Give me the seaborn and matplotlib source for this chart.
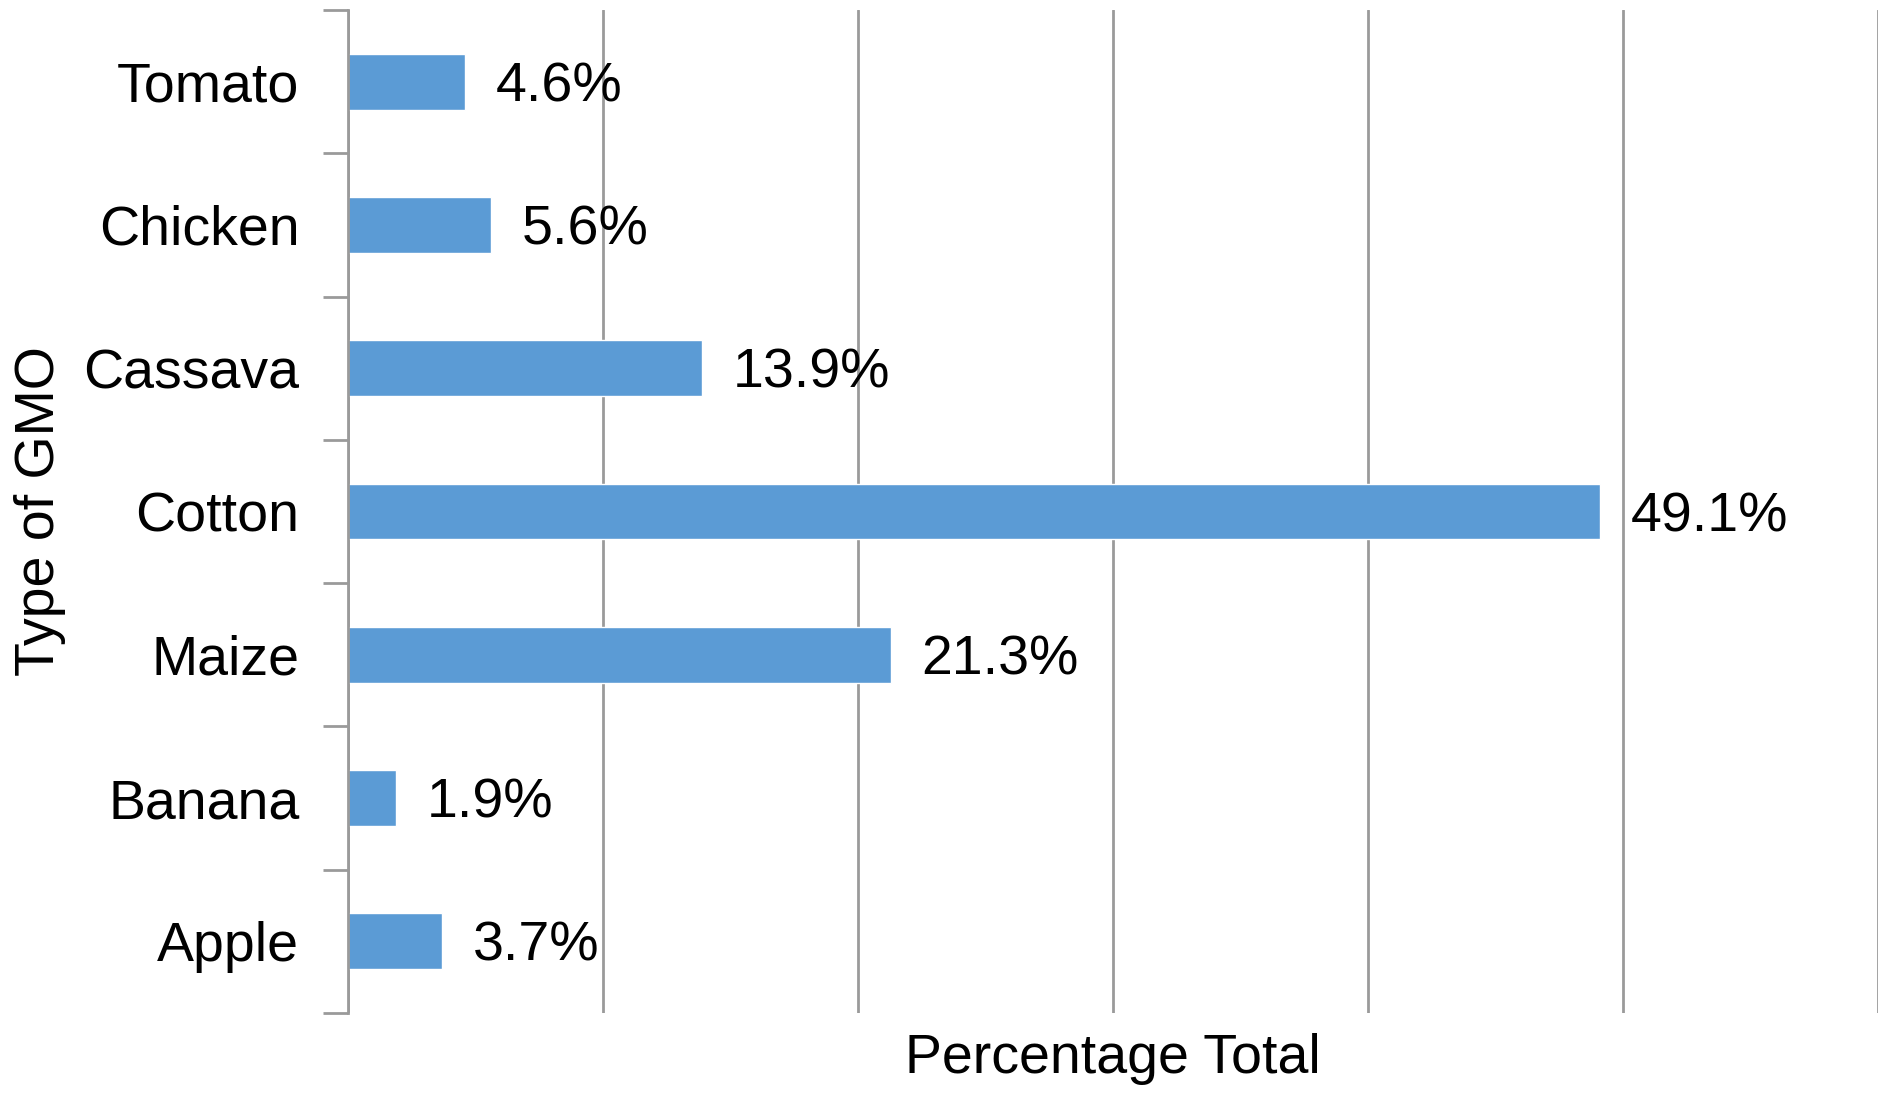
import matplotlib
matplotlib.use("Agg")
import matplotlib.pyplot as plt
import seaborn as sns
import pandas as pd
import numpy as np

categories = ["Tomato", "Chicken", "Cassava", "Cotton", "Maize", "Banana", "Apple"]
values = [4.6, 5.6, 13.9, 49.1, 21.3, 1.9, 3.7]
value_labels = ["4.6%", "5.6%", "13.9%", "49.1%", "21.3%", "1.9%", "3.7%"]

sns.set_theme(style="white")
plt.rcParams["font.family"] = ["Liberation Sans", "DejaVu Sans"]
fs = 40

df = pd.DataFrame({"cat": categories, "val": values})

fig = plt.figure(figsize=(18.94, 11), dpi=100)
ax = fig.add_axes([0.1837, 0.0791, 0.9916 - 0.1837, 0.9909 - 0.0791])
sns.barplot(data=df, x="val", y="cat", orient="h", color="#5B9BD5",
            saturation=1, width=0.39, ax=ax, zorder=3)

ax.set_xlim(0, 60)
ax.set_ylim(6.5, -0.5)
ax.set_xticks(np.arange(0, 61, 10))
ax.set_xticklabels([])
ax.tick_params(axis="x", length=0)
ax.grid(axis="x", color="#9A9A9A", linewidth=2, zorder=0)
ax.grid(axis="y", visible=False)

for s in ["top", "right", "bottom"]:
    ax.spines[s].set_visible(False)
ax.spines["left"].set_color("#9A9A9A")
ax.spines["left"].set_linewidth(2)
ax.spines["left"].set_zorder(4)

ax.set_yticks(np.arange(-0.5, 7, 1), minor=True)
ax.tick_params(axis="y", which="minor", length=18, width=2, color="#9A9A9A", left=True)
ax.tick_params(axis="y", which="major", length=0, pad=35, labelsize=fs, labelcolor="black")

for i, (v, lab) in enumerate(zip(values, value_labels)):
    ax.annotate(lab, xy=(v, i), xytext=(22, -4), textcoords="offset points",
                ha="left", va="center", fontsize=fs, color="black")

ax.set_xlabel("Percentage Total", fontsize=fs, color="black")
ax.xaxis.set_label_coords(0.5, -0.046)
ax.xaxis.label.set_va("center")
ax.set_ylabel("Type of GMO", fontsize=fs, color="black")
ax.yaxis.set_label_coords(-0.201, 0.5)
ax.yaxis.label.set_va("center")

fig.savefig("out.png", dpi=100, facecolor="white")
